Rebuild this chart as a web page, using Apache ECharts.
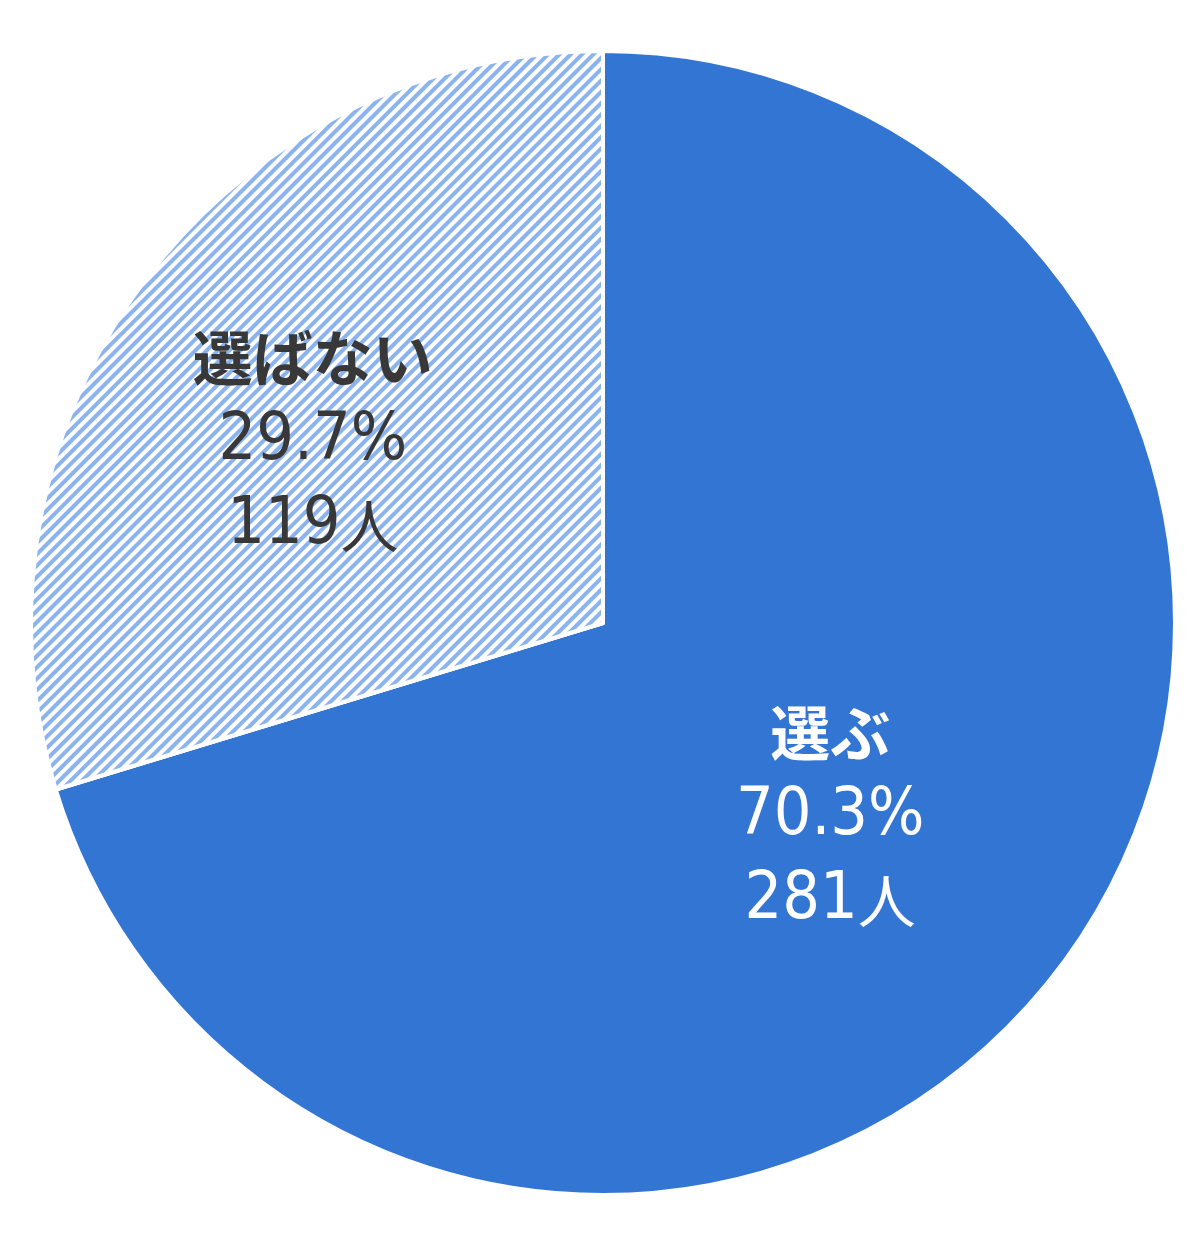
<!DOCTYPE html>
<html>
<head>
<meta charset="utf-8">
<script src="https://cdn.jsdelivr.net/npm/echarts@6/dist/echarts.min.js"></script>
<style>
html,body{margin:0;padding:0;background:#fff;}
#chart{width:1198px;height:1250px;}
</style>
</head>
<body>
<div id="chart"></div>
<script>
const categories = ['選ぶ', '選ばない'];
const percents = [70.3, 29.7];
const counts = [281, 119];

const chart = echarts.init(document.getElementById('chart'), null, {renderer: 'canvas'});

const numFont = '"DejaVu Sans Condensed", "Noto Sans CJK JP", sans-serif';
const cjkFont = '"Noto Sans CJK JP", sans-serif';

function richFor(color) {
  return {
    name: {fontFamily: cjkFont, fontSize: 60, fontWeight: 'bold', color: color, lineHeight: 84},
    num: {fontFamily: numFont, fontSize: 66, fontWeight: 'normal', color: color, lineHeight: 84},
    unit: {fontFamily: cjkFont, fontSize: 58, fontWeight: 'normal', color: color, lineHeight: 84}
  };
}

// label nudges relative to the slice's inside anchor
const labelShift = [[-5, 22], [-58, -9]];

const data = categories.map((c, i) => {
  const item = {
    name: c,
    value: percents[i]
  };
  if (i === 0) {
    item.itemStyle = {color: '#3375D3'};
    item.label = {rich: richFor('#ffffff')};
  } else {
    item.itemStyle = {
      color: '#ffffff',
      decal: {
        symbol: 'rect',
        dashArrayX: [1, 0],
        dashArrayY: [3.6, 3.5],
        rotation: -Math.PI / 4,
        color: '#8AB3EF',
        backgroundColor: '#ffffff'
      }
    };
    item.label = {rich: richFor('#383838')};
  }
  return item;
});

chart.setOption({
  animation: false,
  backgroundColor: '#ffffff',
  series: [{
    type: 'pie',
    center: [603, 623],
    radius: 572,
    startAngle: 90,
    clockwise: true,
    data: data,
    itemStyle: {borderColor: '#ffffff', borderWidth: 4},
    label: {
      show: true,
      position: 'inside',
      formatter: function (p) {
        return '{name|' + p.name + '}\n{num|' + percents[p.dataIndex].toFixed(1) + '%}\n{num|' + counts[p.dataIndex] + '}{unit|人}';
      }
    },
    labelLayout: function (params) {
      const s = labelShift[params.dataIndex];
      return {dx: s[0], dy: s[1]};
    },
    labelLine: {show: false},
    emphasis: {disabled: true}
  }]
});
</script>
</body>
</html>
